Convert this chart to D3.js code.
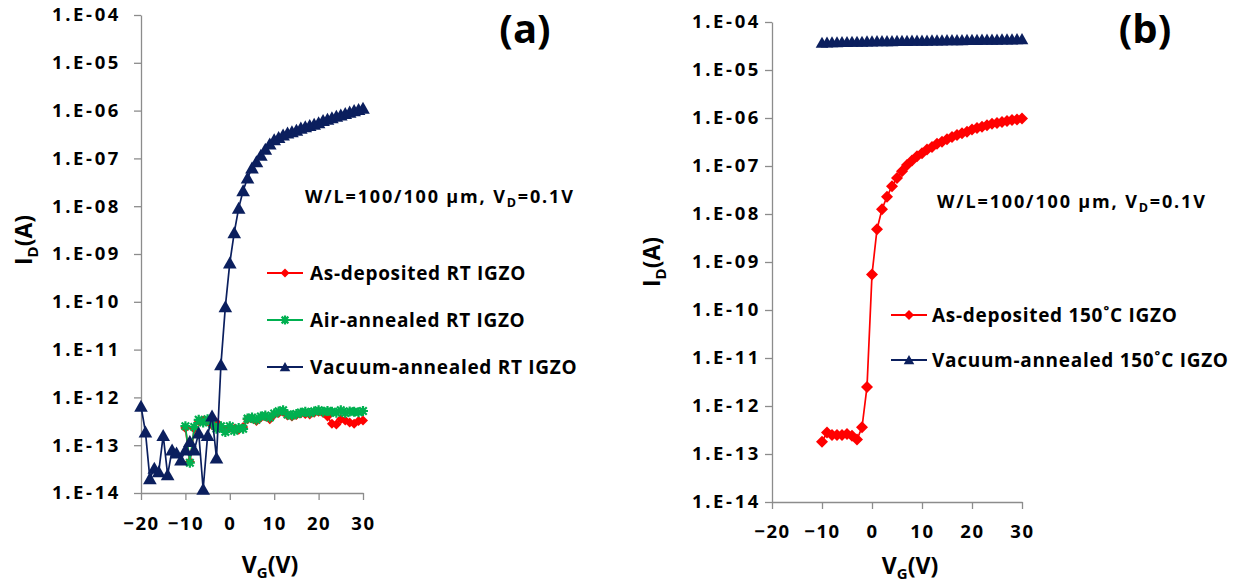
<!DOCTYPE html>
<html>
<head>
<meta charset="utf-8">
<script src="https://cdn.jsdelivr.net/npm/d3@7"></script>
<style>
  html, body { margin: 0; padding: 0; background: #fff; }
  svg { display: block; font-family: "Open Sans", "Liberation Sans", sans-serif; font-weight: 700; }
</style>
</head>
<body>
<svg id="chart" width="1239" height="585"></svg>
<script>
// Transfer curves I_D vs V_G of IGZO TFTs (log scale)

// ---- shared axes ----
const yTickValues = [1e-14, 1e-13, 1e-12, 1e-11, 1e-10, 1e-9, 1e-8, 1e-7, 1e-6, 1e-5, 1e-4];
const xTickValues = [-20, -10, 0, 10, 20, 30];

// ---- panel (a): RT-deposited IGZO ----
const vgVacRT = [-20,-19,-18,-17,-16,-15,-14,-13,-12,-11,-10,-9,-8,-7,-6,-5,-4,-3,-2,-1,
                 0,1,2,3,4,5,6,7,8,9,10,11,12,13,14,15,16,17,18,19,20,21,22,23,24,25,26,27,28,29,30];
const idVacRT = [6.5e-13,1.9e-13,2.0e-14,3.3e-14,2.8e-14,1.6e-13,2.4e-14,7.9e-14,6.9e-14,4.9e-14,
                 7.9e-14,1.2e-13,7.9e-14,1.8e-13,1.2e-14,1.6e-13,4.1e-13,5.4e-14,4.8e-12,7.9e-11,
                 6.5e-10,2.8e-9,9.1e-9,2.1e-8,3.9e-8,6.3e-8,8.5e-8,1.17e-7,1.55e-7,2.0e-7,
                 2.45e-7,2.75e-7,3.1e-7,3.4e-7,3.6e-7,3.9e-7,4.3e-7,4.6e-7,4.9e-7,5.2e-7,
                 5.6e-7,6.2e-7,6.6e-7,7.1e-7,7.6e-7,8.1e-7,8.7e-7,9.3e-7,1.0e-6,1.05e-6,1.12e-6];

const vgRT = [-10,-9,-8,-7,-6,-5,-4,-3,-2,-1,0,1,2,3,4,5,6,7,8,9,10,
              11,12,13,14,15,16,17,18,19,20,21,22,23,24,25,26,27,28,29,30];
const idAsDepRT = [2.3e-13,4.5e-14,2.2e-13,3.2e-13,3.3e-13,3.2e-13,2.6e-13,3.0e-13,2.4e-13,2.0e-13,
                   2.3e-13,2.2e-13,2.1e-13,2.4e-13,3.5e-13,3.6e-13,3.2e-13,3.8e-13,4.0e-13,3.5e-13,
                   4.4e-13,4.7e-13,5.0e-13,4.2e-13,4.0e-13,4.3e-13,4.6e-13,4.5e-13,4.4e-13,4.8e-13,
                   5.0e-13,4.7e-13,4.0e-13,2.8e-13,2.7e-13,3.5e-13,3.3e-13,3.0e-13,2.8e-13,3.2e-13,3.3e-13];
const idAirRT = [2.5e-13,4.3e-14,2.4e-13,3.4e-13,3.0e-13,3.5e-13,2.8e-13,2.2e-13,2.5e-13,1.9e-13,
                 2.5e-13,2.0e-13,2.3e-13,2.2e-13,3.6e-13,3.8e-13,3.4e-13,4.0e-13,4.2e-13,3.8e-13,
                 4.6e-13,5.1e-13,5.4e-13,4.4e-13,4.2e-13,4.5e-13,4.8e-13,5.0e-13,4.7e-13,5.1e-13,
                 5.4e-13,5.0e-13,5.2e-13,5.0e-13,4.8e-13,5.4e-13,4.7e-13,5.1e-13,5.0e-13,4.9e-13,5.2e-13];

// ---- panel (b): 150 °C-deposited IGZO ----
const vg150 = [-10,-9,-8,-7,-6,-5,-4,-3,-2,-1,0,1,2,3,4,5,6,7,8,9,10,
               11,12,13,14,15,16,17,18,19,20,21,22,23,24,25,26,27,28,29,30];
const idAsDep150 = [1.8e-13,2.8e-13,2.5e-13,2.5e-13,2.5e-13,2.6e-13,2.4e-13,2.0e-13,3.6e-13,2.5e-12,
                    5.5e-10,4.8e-9,1.26e-8,2.3e-8,3.8e-8,5.6e-8,7.8e-8,1.05e-7,1.3e-7,1.6e-7,
                    1.85e-7,2.2e-7,2.5e-7,2.9e-7,3.2e-7,3.6e-7,4.0e-7,4.4e-7,4.8e-7,5.2e-7,
                    5.75e-7,6.2e-7,6.6e-7,7.1e-7,7.6e-7,7.9e-7,8.3e-7,8.7e-7,9.1e-7,9.3e-7,9.8e-7];
const idVac150 = [3.7e-5,3.75e-5,3.8e-5,3.8e-5,3.85e-5,3.85e-5,3.9e-5,3.9e-5,3.9e-5,3.95e-5,
                  3.95e-5,4.0e-5,4.0e-5,4.0e-5,4.0e-5,4.05e-5,4.05e-5,4.05e-5,4.1e-5,4.1e-5,
                  4.1e-5,4.1e-5,4.15e-5,4.15e-5,4.15e-5,4.2e-5,4.2e-5,4.2e-5,4.2e-5,4.25e-5,
                  4.25e-5,4.25e-5,4.3e-5,4.3e-5,4.3e-5,4.3e-5,4.35e-5,4.35e-5,4.35e-5,4.4e-5,4.4e-5];

const legendA = ["As-deposited RT IGZO", "Air-annealed RT IGZO", "Vacuum-annealed RT IGZO"];
const legendB = ["As-deposited 150˚C IGZO", "Vacuum-annealed 150˚C IGZO"];

const RED = "#ff0000", GREEN = "#00b050", NAVY = "#0b1f5e", AXIS = "#8c8c8c";

const svg = d3.select("#chart");

// marker drawers
function marker(g, type, x, y, s, color) {
  if (type === "diamond") {
    g.append("path").attr("d", `M${x},${y - s}L${x + s},${y}L${x},${y + s}L${x - s},${y}Z`).attr("fill", color);
  } else if (type === "triangle") {
    g.append("path").attr("d", `M${x},${y - s}L${x + s * 1.05},${y + s * 0.85}L${x - s * 1.05},${y + s * 0.85}Z`).attr("fill", color);
  } else if (type === "star") {
    const d = s * 0.75;
    g.append("path")
      .attr("d", `M${x - d},${y - d}L${x + d},${y + d}M${x - d},${y + d}L${x + d},${y - d}M${x},${y - s}L${x},${y + s}M${x - s},${y}L${x + s},${y}`)
      .attr("stroke", color).attr("stroke-width", 2.2).attr("fill", "none");
  }
}

function drawSeries(g, x, y, xs, ys, color, type, size) {
  const pts = xs.map((v, i) => [x(v), y(ys[i])]);
  g.append("path").attr("d", d3.line()(pts)).attr("fill", "none")
    .attr("stroke", color).attr("stroke-width", 1.7);
  const mg = g.append("g");
  pts.forEach(p => marker(mg, type, p[0], p[1], size, color));
}

const fmtY = d => "1.E-" + String(-Math.round(Math.log10(d))).padStart(2, "0");

function drawAxes(x, y, ypad, xLabelDy) {
  const gy = svg.append("g").attr("transform", `translate(${x.range()[0]},0)`)
    .call(d3.axisLeft(y).tickValues(yTickValues).tickFormat(fmtY).tickSize(7).tickSizeOuter(0).tickPadding(ypad));
  const gx = svg.append("g").attr("transform", `translate(0,${y.range()[0]})`)
    .call(d3.axisBottom(x).tickValues(xTickValues).tickFormat(d3.format("d")).tickSize(7).tickSizeOuter(0));
  [gy, gx].forEach(g => {
    g.selectAll("path.domain").attr("stroke", AXIS).attr("stroke-width", 1.3);
    g.selectAll(".tick line").attr("stroke", AXIS).attr("stroke-width", 1.3);
    g.selectAll(".tick text").attr("fill", "#000").attr("font-size", 18.5)
      .attr("font-family", "'Open Sans', sans-serif").attr("font-weight", 700);
  });
  gy.selectAll(".tick text").attr("letter-spacing", 2.6);
  gx.selectAll(".tick text").attr("y", xLabelDy).attr("dy", "0.35em").attr("letter-spacing", 1.6);
}

// rotated title, centred on (cx, cy) using its measured length
function yTitle(cx, cy) {
  const t = svg.append("text").attr("font-size", 23).attr("fill", "#000");
  t.append("tspan").text("I");
  t.append("tspan").text("D").attr("font-size", 15).attr("dy", 6);
  t.append("tspan").text("(A)").attr("dy", -6);
  const w = t.node().getComputedTextLength();
  t.attr("transform", `translate(${cx},${cy + w / 2}) rotate(-90)`);
}

function xTitle(cx, by) {
  const t = svg.append("text").attr("font-size", 23).attr("fill", "#000");
  t.append("tspan").text("V");
  t.append("tspan").text("G").attr("font-size", 15).attr("dy", 5);
  t.append("tspan").text("(V)").attr("dy", -5);
  const w = t.node().getComputedTextLength();
  t.attr("x", cx - w / 2).attr("y", by);
}

function note(x0, by) {
  const t = svg.append("text").attr("x", x0).attr("y", by).attr("font-size", 18)
    .attr("letter-spacing", 1.85).attr("fill", "#000");
  t.append("tspan").text("W/L=100/100 µm, V");
  t.append("tspan").text("D").attr("font-size", 12.5).attr("dy", 4);
  t.append("tspan").text("=0.1V").attr("dy", -4);
}

function legend(items, x0, textX, ys) {
  items.forEach((it, i) => {
    const g = svg.append("g");
    g.append("line").attr("x1", x0).attr("x2", x0 + 36).attr("y1", ys[i]).attr("y2", ys[i])
      .attr("stroke", it.color).attr("stroke-width", 1.8);
    marker(g, it.type, x0 + 18, ys[i], it.size, it.color);
    g.append("text").attr("x", textX).attr("y", ys[i]).attr("dy", "0.36em")
      .attr("font-size", 19).attr("letter-spacing", 0.7).attr("fill", "#000").text(it.label);
  });
}

// ===== Panel (a) =====
const xA = d3.scaleLinear().domain([-20, 30]).range([141, 363]);
const yA = d3.scaleLog().domain([1e-14, 1e-4]).range([493, 15]);
drawAxes(xA, yA, 13, 31);
const gA = svg.append("g");
drawSeries(gA, xA, yA, vgRT, idAsDepRT, RED, "diamond", 5);
drawSeries(gA, xA, yA, vgRT, idAirRT, GREEN, "star", 5);
drawSeries(gA, xA, yA, vgVacRT, idVacRT, NAVY, "triangle", 6.5);
yTitle(32, 240);
xTitle(270, 573);
svg.append("text").attr("x", 525).attr("y", 43).attr("text-anchor", "middle")
  .attr("font-size", 40).attr("fill", "#000").text("(a)");
note(305, 203);
legend([
  { label: legendA[0], color: RED, type: "diamond", size: 4.5 },
  { label: legendA[1], color: GREEN, type: "star", size: 4.5 },
  { label: legendA[2], color: NAVY, type: "triangle", size: 5 }
], 267, 310, [273, 320, 367]);

// ===== Panel (b) =====
const xB = d3.scaleLinear().domain([-20, 30]).range([772, 1022]);
const yB = d3.scaleLog().domain([1e-14, 1e-4]).range([502, 22]);
drawAxes(xB, yB, 4, 30);
const gB = svg.append("g");
drawSeries(gB, xB, yB, vg150, idAsDep150, RED, "diamond", 6);
drawSeries(gB, xB, yB, vg150, idVac150, NAVY, "triangle", 6);
yTitle(660, 262);
xTitle(910, 574);
svg.append("text").attr("x", 1145).attr("y", 43).attr("text-anchor", "middle")
  .attr("font-size", 40).attr("fill", "#000").text("(b)");
note(937, 208);
legend([
  { label: legendB[0], color: RED, type: "diamond", size: 5 },
  { label: legendB[1], color: NAVY, type: "triangle", size: 5 }
], 891, 932, [315, 360]);
</script>
</body>
</html>
